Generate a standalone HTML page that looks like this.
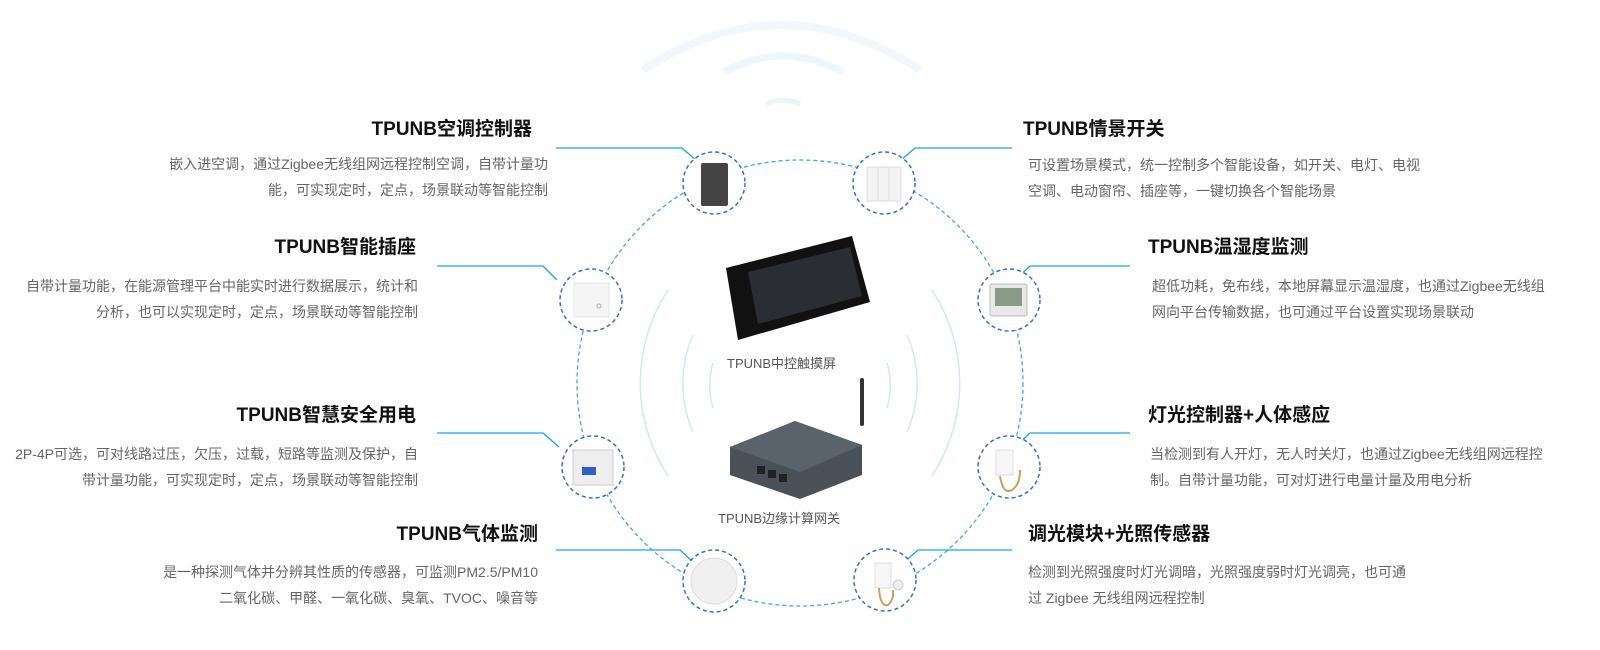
<!DOCTYPE html>
<html><head><meta charset="utf-8"><style>
body{margin:0;width:1600px;height:650px;background:#fff;position:relative;overflow:hidden;font-family:"Liberation Sans","Noto Sans CJK SC",sans-serif}
.t{position:absolute;font-weight:bold;font-size:19px;color:#111;white-space:nowrap;line-height:24px}
.d{position:absolute;font-size:14px;color:#666;white-space:nowrap;line-height:26px}
.r{text-align:right}
svg{position:absolute;left:0;top:0}
.lbl{position:absolute;font-size:13px;color:#555;white-space:nowrap}
</style></head><body>
<svg width="1600" height="650" viewBox="0 0 1600 650">
 <path d="M643 70 Q781 -20 920 70" fill="none" stroke="#f0f8fe" stroke-width="8"/>
 <path d="M724 72 Q783 40 843 72" fill="none" stroke="#ecf6fd" stroke-width="7"/>
 <path d="M766 104 Q783 96 800 104" fill="none" stroke="#e8f4fc" stroke-width="5"/>
 <g fill="none" stroke="#cdeafb" stroke-width="1.5">
  <path d="M668 290 A170 170 0 0 0 668 476"/>
  <path d="M932 290 A170 170 0 0 1 932 476"/>
  <path d="M693 335 A120 120 0 0 0 693 432"/>
  <path d="M907 335 A120 120 0 0 1 907 432"/>
  <path d="M713 363 A80 80 0 0 0 713 408"/>
  <path d="M887 363 A80 80 0 0 1 887 408"/>
 </g>
 <circle cx="800" cy="383" r="223" fill="none" stroke="#3aa8f0" stroke-width="1.3" stroke-dasharray="4 3"/>
 <g fill="none" stroke="#1aa3ee" stroke-width="1.3">
  <path d="M556 148 H682 L697 161"/>
  <path d="M437 266 H543 L557 280"/>
  <path d="M437 433 H543 L559 447"/>
  <path d="M556 550 H680 L695 564"/>
  <path d="M1012 148 H915 L900 161"/>
  <path d="M1130 266 H1030 L1016 279"/>
  <path d="M1130 433 H1030 L1016 446"/>
  <path d="M1012 550 H918 L903 563"/>
 </g>
 <g fill="#fff" stroke="#2e6fe0" stroke-width="1.5" stroke-dasharray="4 3">
  <circle cx="714" cy="183" r="31"/>
  <circle cx="884" cy="183" r="31"/>
  <circle cx="591" cy="300" r="31"/>
  <circle cx="1009" cy="300" r="31"/>
  <circle cx="593" cy="467" r="31"/>
  <circle cx="1009" cy="467" r="31"/>
  <circle cx="714" cy="581" r="31"/>
  <circle cx="885" cy="580" r="31"/>
 </g>
 <rect x="701" y="163" width="27" height="43" rx="2" fill="#444"/>
 <rect x="867" y="167" width="34" height="34" fill="#f3f3f3" stroke="#ddd"/>
 <line x1="878" y1="167" x2="878" y2="201" stroke="#ddd"/><line x1="889" y1="167" x2="889" y2="201" stroke="#ddd"/>
 <rect x="574" y="283" width="35" height="34" fill="#f5f5f5" stroke="#e5e5e5"/>
 <circle cx="599" cy="306" r="2" fill="none" stroke="#aaa"/>
 <rect x="990" y="284" width="37" height="32" rx="2" fill="#e8e8e8" stroke="#bbb"/>
 <rect x="995" y="288" width="27" height="18" fill="#8a9a88"/>
 <rect x="573" y="450" width="40" height="35" fill="#eee" stroke="#ccc"/>
 <rect x="582" y="467" width="14" height="8" fill="#2f5fc8"/>
 <circle cx="714" cy="581" r="23" fill="#f0f0f0" stroke="#ddd"/>
 <rect x="996" y="450" width="17" height="25" fill="#f6f6f6" stroke="#ddd"/>
 <path d="M1000 476 Q1003 495 1012 490 Q1020 485 1020 470" fill="none" stroke="#c9a060" stroke-width="2"/>
 <rect x="875" y="563" width="16" height="25" fill="#f6f6f6" stroke="#ddd"/>
 <path d="M879 588 Q880 607 888 605 Q894 600 893 590" fill="none" stroke="#c9a060" stroke-width="2"/>
 <circle cx="898" cy="585" r="5" fill="#eee" stroke="#ccc"/>
 <polygon points="726,268 852,236 870,302 738,340" fill="#111"/>
 <polygon points="748,272 850,247 862,296 758,324" fill="#2a2d33"/>
 <polygon points="730,447 795,421 862,445 862,475 800,499 730,475" fill="#4a5159"/>
 <polygon points="730,447 795,421 862,445 800,472" fill="#5a626b"/>
 <rect x="860" y="378" width="4" height="48" rx="2" fill="#333"/>
 <rect x="757" y="466" width="8" height="8" fill="#222"/><rect x="768" y="470" width="8" height="8" fill="#222"/><rect x="779" y="474" width="8" height="8" fill="#222"/>
</svg>
<div class="lbl" style="left:727px;top:353px">TPUNB中控触摸屏</div>
<div class="lbl" style="left:718px;top:508px">TPUNB边缘计算网关</div>

<div class="t r" style="right:1068px;top:118px">TPUNB空调控制器</div>
<div class="d r" style="right:1052px;top:151px">嵌入进空调，通过Zigbee无线组网远程控制空调，自带计量功<br>能，可实现定时，定点，场景联动等智能控制</div>
<div class="t r" style="right:1184px;top:236px">TPUNB智能插座</div>
<div class="d r" style="right:1182px;top:273px">自带计量功能，在能源管理平台中能实时进行数据展示，统计和<br>分析，也可以实现定时，定点，场景联动等智能控制</div>
<div class="t r" style="right:1184px;top:404px">TPUNB智慧安全用电</div>
<div class="d r" style="right:1182px;top:441px">2P-4P可选，可对线路过压，欠压，过载，短路等监测及保护，自<br>带计量功能，可实现定时，定点，场景联动等智能控制</div>
<div class="t r" style="right:1062px;top:523px">TPUNB气体监测</div>
<div class="d r" style="right:1062px;top:559px">是一种探测气体并分辨其性质的传感器，可监测PM2.5/PM10<br>二氧化碳、甲醛、一氧化碳、臭氧、TVOC、噪音等</div>

<div class="t" style="left:1023px;top:118px">TPUNB情景开关</div>
<div class="d" style="left:1028px;top:152px">可设置场景模式，统一控制多个智能设备，如开关、电灯、电视<br>空调、电动窗帘、插座等，一键切换各个智能场景</div>
<div class="t" style="left:1148px;top:236px">TPUNB温湿度监测</div>
<div class="d" style="left:1152px;top:273px">超低功耗，免布线，本地屏幕显示温湿度，也通过Zigbee无线组<br>网向平台传输数据，也可通过平台设置实现场景联动</div>
<div class="t" style="left:1148px;top:404px">灯光控制器+人体感应</div>
<div class="d" style="left:1150px;top:441px">当检测到有人开灯，无人时关灯，也通过Zigbee无线组网远程控<br>制。自带计量功能，可对灯进行电量计量及用电分析</div>
<div class="t" style="left:1028px;top:523px">调光模块+光照传感器</div>
<div class="d" style="left:1028px;top:559px">检测到光照强度时灯光调暗，光照强度弱时灯光调亮，也可通<br>过 Zigbee 无线组网远程控制</div>
</body></html>
